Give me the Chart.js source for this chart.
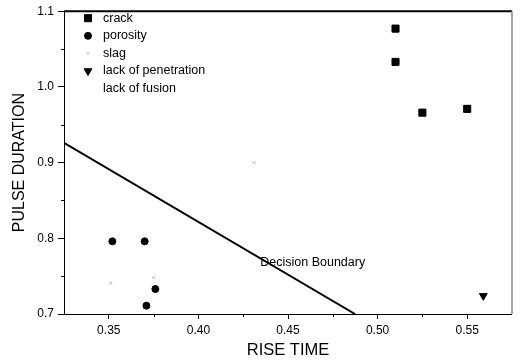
<!DOCTYPE html>
<html>
<head>
<meta charset="utf-8">
<script src="https://cdn.jsdelivr.net/npm/chart.js@4/dist/chart.umd.min.js"></script>
<style>
  html, body { margin: 0; padding: 0; background: #fff; }
  #wrap { width: 520px; height: 361px; }
</style>
</head>
<body>
<div id="wrap"><canvas id="grafico" width="520" height="361"></canvas></div>
<script>
// datos
const crackX = [0.510, 0.510, 0.525, 0.550];
const crackY = [1.077, 1.033, 0.966, 0.971];
const porosityX = [0.352, 0.370, 0.376, 0.371];
const porosityY = [0.796, 0.796, 0.733, 0.711];
const slagX = [0.351, 0.375, 0.431];
const slagY = [0.741, 0.748, 0.900];
const penetrationX = [0.559];
const penetrationY = [0.724];
const fusionX = [];
const fusionY = [];
const boundaryX = [0.325, 0.4874];
const boundaryY = [0.926, 0.700];
const boundaryLabel = 'Decision Boundary';
const boundaryLabelAt = [0.4345, 0.768];

const xMajor = [0.35, 0.40, 0.45, 0.50, 0.55];
const xMinor = [0.375, 0.425, 0.475, 0.525];
const yMajor = [0.7, 0.8, 0.9, 1.0, 1.1];
const yMinor = [0.75, 0.85, 0.95, 1.05];

const fuente = "'Liberation Sans', Arial, sans-serif";

function puntos(xs, ys) { return xs.map((x, i) => ({ x: x, y: ys[i] })); }

// leyenda dentro del area del grafico
const leyendaPlugin = {
    id: 'leyenda',
    afterDatasetsDraw(chart) {
        const ctx = chart.ctx;
        const items = chart.data.datasets.filter(d => d.enLeyenda);
        ctx.save();
        ctx.font = '12.5px ' + fuente;
        ctx.textBaseline = 'middle';
        ctx.fillStyle = '#000';
        items.forEach((d, i) => {
            const y = chart.chartArea.top + 7 + i * 17.6;
            const x = chart.chartArea.left + 24;
            if (d.pointRadius > 0) {
                ctx.fillStyle = d.backgroundColor;
                ctx.strokeStyle = d.borderColor;
                ctx.lineWidth = 1;
                Chart.helpers.drawPoint(ctx, { pointStyle: d.pointStyle, radius: d.pointRadius, rotation: d.rotation || 0, borderWidth: 1 }, x, y);
            }
            ctx.fillStyle = '#000';
            ctx.fillText(d.label, x + 15, y);
        });
        ctx.restore();
    }
};

// marco, rayitas menores y texto de la frontera
const marcoPlugin = {
    id: 'marco',
    afterDraw(chart) {
        const ctx = chart.ctx;
        const a = chart.chartArea;
        const sx = chart.scales.x, sy = chart.scales.y;
        ctx.save();
        ctx.strokeStyle = '#000';
        ctx.lineWidth = 1;
        ctx.beginPath();
        ctx.moveTo(a.left + 0.5, a.top); ctx.lineTo(a.left + 0.5, a.bottom + 0.5);
        ctx.lineTo(a.right, a.bottom + 0.5);
        ctx.stroke();
        ctx.lineWidth = 2;
        ctx.beginPath();
        ctx.moveTo(a.left, a.top); ctx.lineTo(a.right, a.top);
        ctx.stroke();
        ctx.strokeStyle = '#888';
        ctx.lineWidth = 1.5;
        ctx.beginPath();
        ctx.moveTo(a.right, a.top); ctx.lineTo(a.right, a.bottom);
        ctx.stroke();
        ctx.strokeStyle = '#000';
        ctx.lineWidth = 1;
        ctx.beginPath();
        xMinor.forEach(v => {
            const px = Math.round(sx.getPixelForValue(v)) + 0.5;
            ctx.moveTo(px, a.bottom); ctx.lineTo(px, a.bottom + 3);
        });
        yMinor.forEach(v => {
            const py = Math.round(sy.getPixelForValue(v)) + 0.5;
            ctx.moveTo(a.left, py); ctx.lineTo(a.left - 3, py);
        });
        ctx.stroke();
        ctx.font = '12.5px ' + fuente;
        ctx.textBaseline = 'middle';
        ctx.fillStyle = '#000';
        ctx.fillText(boundaryLabel, sx.getPixelForValue(boundaryLabelAt[0]), sy.getPixelForValue(boundaryLabelAt[1]));
        ctx.restore();
    }
};

new Chart(document.getElementById('grafico'), {
    type: 'scatter',
    data: {
        datasets: [
            { label: 'crack', data: puntos(crackX, crackY), pointStyle: 'rect', pointRadius: 5, backgroundColor: '#000', borderColor: '#000', enLeyenda: true },
            { label: 'porosity', data: puntos(porosityX, porosityY), pointStyle: 'circle', pointRadius: 3.5, backgroundColor: '#000', borderColor: '#000', enLeyenda: true },
            { label: 'slag', data: puntos(slagX, slagY), pointStyle: 'crossRot', pointRadius: 2, backgroundColor: '#bbb', borderColor: '#bbb', borderWidth: 1, enLeyenda: true },
            { label: 'lack of penetration', data: puntos(penetrationX, penetrationY), pointStyle: 'triangle', rotation: 180, pointRadius: 4.5, backgroundColor: '#000', borderColor: '#000', enLeyenda: true },
            { label: 'lack of fusion', data: puntos(fusionX, fusionY), pointStyle: 'circle', pointRadius: 0, backgroundColor: '#fff', borderColor: '#fff', enLeyenda: true },
            { label: 'boundary', type: 'line', data: puntos(boundaryX, boundaryY), borderColor: '#000', borderWidth: 2, pointRadius: 0, showLine: true, fill: false }
        ]
    },
    options: {
        responsive: false,
        animation: false,
        layout: { padding: { left: 0, right: 8, top: 11, bottom: 0 } },
        plugins: { legend: { display: false }, tooltip: { enabled: false } },
        scales: {
            x: {
                type: 'linear', min: 0.325, max: 0.575,
                afterBuildTicks: s => { s.ticks = xMajor.map(v => ({ value: v })); },
                afterFit: s => { s.height = 47; },
                grid: { display: true, drawOnChartArea: false, tickLength: 5, color: '#000' },
                border: { display: false },
                ticks: { color: '#000', padding: 4, font: { family: fuente, size: 12 }, callback: v => v.toFixed(2) },
                title: { display: true, text: 'RISE TIME', color: '#000', font: { family: fuente, size: 16.5 }, padding: { top: 0, bottom: 1 } }
            },
            y: {
                type: 'linear', min: 0.7, max: 1.1,
                afterBuildTicks: s => { s.ticks = yMajor.map(v => ({ value: v })); },
                afterFit: s => { s.width = 64; },
                grid: { display: true, drawOnChartArea: false, tickLength: 6, color: '#000' },
                border: { display: false },
                ticks: { color: '#000', padding: 4, font: { family: fuente, size: 12 }, callback: v => v.toFixed(1) },
                title: { display: true, text: 'PULSE DURATION', color: '#000', font: { family: fuente, size: 16 }, padding: { top: 10, bottom: 0 } }
            }
        }
    },
    plugins: [leyendaPlugin, marcoPlugin]
});
</script>
</body>
</html>
